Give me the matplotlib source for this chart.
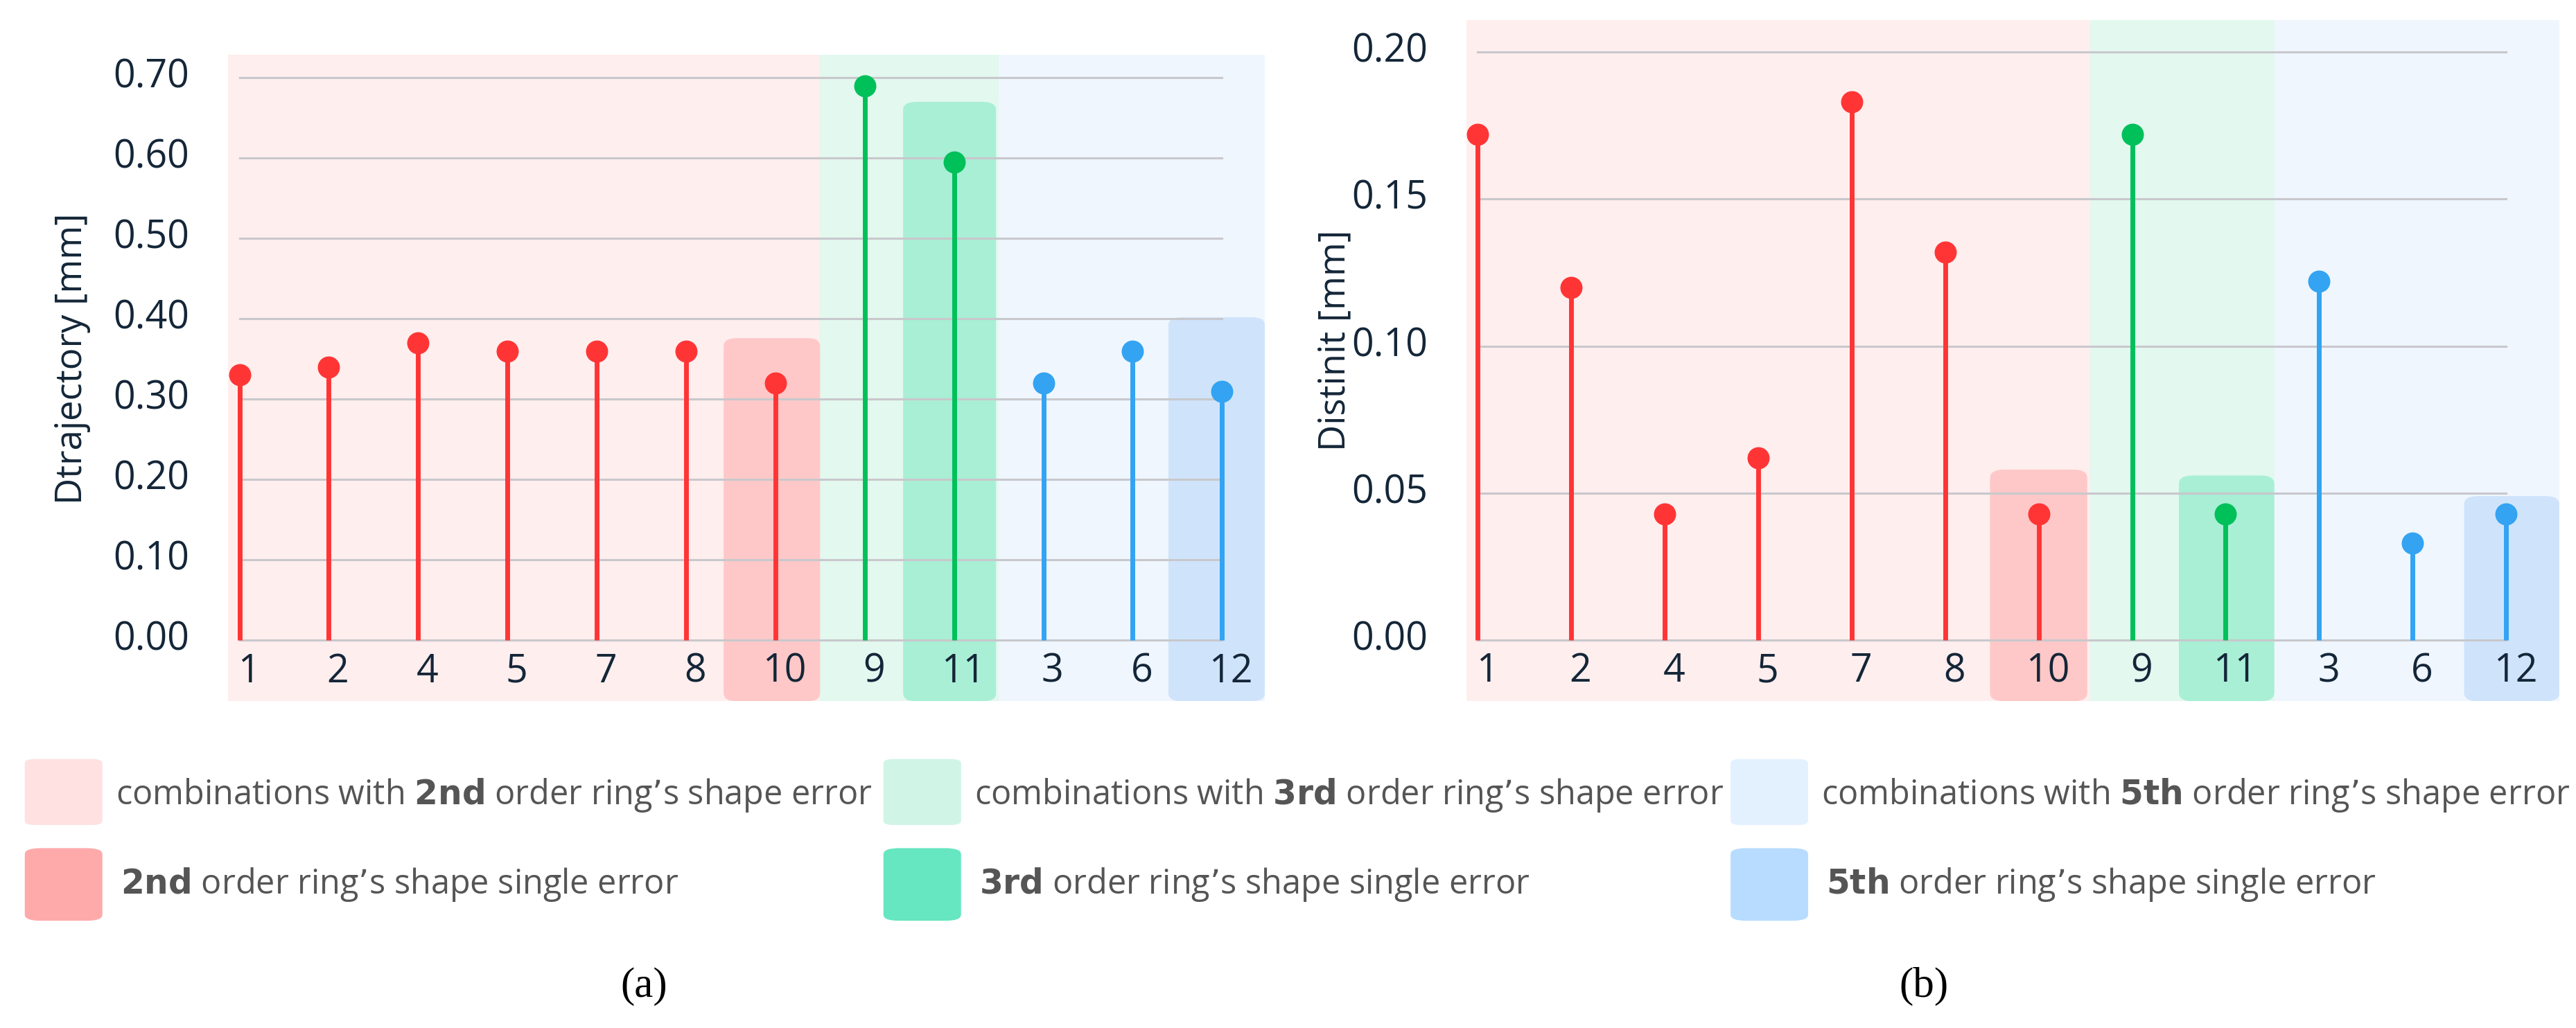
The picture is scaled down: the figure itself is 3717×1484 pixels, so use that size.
import matplotlib
matplotlib.use('Agg')
import matplotlib.pyplot as plt
from matplotlib.patches import Rectangle, FancyBboxPatch

plt.rcParams['font.family'] = ['Open Sans', 'DejaVu Sans']

cats = ['1', '2', '4', '5', '7', '8', '10', '9', '11', '3', '6', '12']
d_traj = [0.33, 0.34, 0.37, 0.36, 0.36, 0.36, 0.32, 0.69, 0.595, 0.32, 0.36, 0.31]
dist_init = [0.172, 0.12, 0.043, 0.062, 0.183, 0.132, 0.043, 0.172, 0.043, 0.122, 0.033, 0.043]
groups = ['r'] * 7 + ['g'] * 2 + ['b'] * 3

line_col = {'r': '#ff3535', 'g': '#00c05a', 'b': '#33a3f2'}
bg_col = {'r': '#ffeeee', 'g': '#e3f8ef', 'b': '#eff6fe'}
hi_col = {'r': '#ffc8c8', 'g': '#a8efd6', 'b': '#cfe4fb'}
txt = '#142638'

W, H = 1560.0, 623.0
fig = plt.figure(figsize=(37.17, 14.84), dpi=100)


def ax_at(x0, y0, x1, y1):
    return fig.add_axes([x0 / W, 1 - y1 / H, (x1 - x0) / W, (y1 - y0) / H])


def panel(ax, vals, xlim, ylim, bounds, hi, ticks, ylabel, label_x, tick_x):
    ax.set_xlim(*xlim)
    ax.set_ylim(*ylim)
    ax.axis('off')
    edges = [xlim[0], bounds[0], bounds[1], xlim[1]]
    for k, g in enumerate('rgb'):
        ax.add_patch(Rectangle((edges[k], ylim[0]), edges[k + 1] - edges[k], ylim[1] - ylim[0],
                               color=bg_col[g], lw=0, zorder=0))
    for g, (xa, xb, top) in zip('rgb', hi):
        ax.add_patch(FancyBboxPatch((xa, ylim[0]), xb - xa, top - ylim[0],
                                    boxstyle='round,pad=0,rounding_size=0.15',
                                    mutation_aspect=(ylim[1] - ylim[0]) / 12,
                                    color=hi_col[g], lw=0, zorder=1))
    for t in ticks:
        ax.plot([0, 11], [t, t], color='#c8c8cc', lw=2.2, zorder=2)
        ax.text(tick_x, t, '%.2f' % t, ha='right', va='center',
                fontsize=40, color=txt, transform=ax.get_yaxis_transform())
    for i, (v, g) in enumerate(zip(vals, groups)):
        ax.plot([i, i], [0, v], color=line_col[g], lw=5, zorder=3, solid_capstyle='butt')
        ax.plot(i, v, 'o', color=line_col[g], ms=22, zorder=4)
        ax.text(i + 0.1, ylim[0] * 0.52, cats[i], ha='center', va='center',
                fontsize=40, color=txt)
    ax.text(label_x, 0.53, ylabel, rotation=90, ha='center', va='center',
            fontsize=38, color=txt, transform=ax.transAxes)


ax1 = ax_at(138, 33, 766, 425)
panel(ax1, d_traj, (-0.13, 11.48), (-0.076, 0.729), (6.5, 8.5),
      [(5.42, 6.5, 0.376), (7.43, 8.47, 0.67), (10.4, 11.48, 0.402)],
      [0.0, 0.1, 0.2, 0.3, 0.4, 0.5, 0.6, 0.7], 'Dtrajectory [mm]', -0.15, -0.037)

ax2 = ax_at(888, 12, 1550, 425)
panel(ax2, dist_init, (-0.12, 11.57), (-0.0208, 0.211), (6.55, 8.52),
      [(5.48, 6.52, 0.058), (7.5, 8.52, 0.056), (10.55, 11.57, 0.049)],
      [0.0, 0.05, 0.1, 0.15, 0.2], 'Distinit [mm]', -0.12, -0.035)

leg_light = ['#ffe1e1', '#d0f5e7', '#e3f1ff']
leg_dark = ['#ffaaaa', '#66e6c1', '#b8dcff']
names = ['2nd', '3rd', '5th']
cols = [15, 535, 1048]
for k in range(3):
    x = cols[k]
    fig.patches.append(FancyBboxPatch((x / W, 1 - 500 / H), 47 / W, 40 / H,
                                      boxstyle='round,pad=0,rounding_size=0.004',
                                      transform=fig.transFigure, color=leg_light[k], lw=0))
    fig.patches.append(FancyBboxPatch((x / W, 1 - 558 / H), 47 / W, 44 / H,
                                      boxstyle='round,pad=0,rounding_size=0.006',
                                      transform=fig.transFigure, color=leg_dark[k], lw=0))
    fig.text((x + 55) / W, 1 - 482 / H,
             'combinations with $\\bf{' + names[k] + '}$ order ring\u2019s shape error',
             fontsize=35, color='#555555', va='center')
    fig.text((x + 58) / W, 1 - 536 / H,
             '$\\bf{' + names[k] + '}$ order ring\u2019s shape single error',
             fontsize=35, color='#555555', va='center')

fig.text(390 / W, 1 - 598 / H, '(a)', fontsize=44, ha='center', va='center',
         family='Liberation Serif')
fig.text(1165 / W, 1 - 598 / H, '(b)', fontsize=44, ha='center', va='center',
         family='Liberation Serif')

fig.savefig('out.png', dpi=100, facecolor='white')
